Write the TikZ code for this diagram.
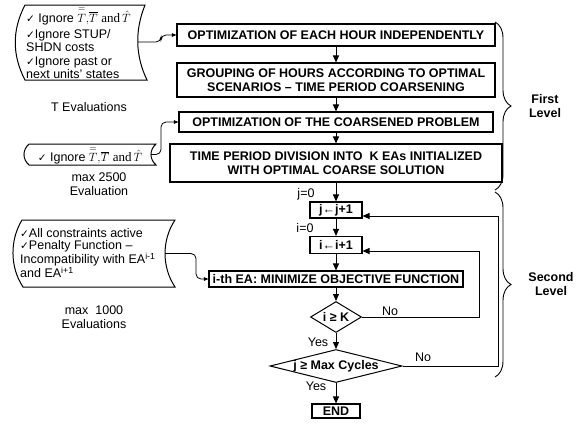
\documentclass[tikz,border=0pt]{standalone}
\usepackage[no-math]{fontspec}
\usepackage{amsmath}
\setmainfont{Liberation Sans}
\newfontfamily\djv{DejaVu Sans}
\newfontfamily\tms{Liberation Serif}
\usetikzlibrary{arrows.meta,shapes.geometric,decorations.pathreplacing}
\newcommand{\ck}{{\djv\fontsize{10.5}{10}\selectfont ✓}}
\newcommand{\TTT}{{\fontsize{13}{13}\selectfont$\overset{=}{T}{,}\overline{T}$ {\tms and}\kern2pt$\hat{T}$}}
\tikzset{
 box/.style={draw, line width=1.1pt, inner sep=0pt, align=center, font=\bfseries\fontsize{12.5}{14}\selectfont},
 dia/.style={draw, shape=diamond, line width=1pt, inner sep=0pt, font=\bfseries\fontsize{12.5}{14}\selectfont},
 txt/.style={inner sep=0pt, align=center, font=\fontsize{12.5}{14}\selectfont},
 side/.style={line width=1pt},
 arr/.style={line width=1pt, -{Triangle[length=7pt,width=6pt]}},
 arrs/.style={line width=0.8pt, rounded corners=5pt, -{Triangle[length=4.5pt,width=3.5pt]}},
 brc/.style={line width=0.9pt, decorate, decoration={brace, amplitude=16pt}},
}
\begin{document}
\begin{tikzpicture}[x=1pt,y=-1pt]
\useasboundingbox (0,0) rectangle (585,424);
% main boxes
\node[box, minimum width=318pt, minimum height=22pt] (b1) at (336,35) {OPTIMIZATION OF EACH HOUR INDEPENDENTLY};
\node[box, minimum width=318pt, minimum height=34pt] (b2) at (336,80) {GROUPING OF HOURS ACCORDING TO OPTIMAL\\SCENARIOS – TIME PERIOD COARSENING};
\node[box, minimum width=314pt, minimum height=20pt] (b3) at (336,122) {OPTIMIZATION OF THE COARSENED PROBLEM};
\node[box, minimum width=332pt, minimum height=38pt] (b4) at (336,163) {TIME PERIOD DIVISION INTO\ \ K EAs INITIALIZED\\WITH OPTIMAL COARSE SOLUTION};
\node[box, minimum width=52pt, minimum height=16pt] (jb) at (336,210) {j←j+1};
\node[box, minimum width=52pt, minimum height=17pt] (ib) at (336,245) {i←i+1};
\node[box, minimum width=254pt, minimum height=16pt] (ea) at (336,279) {i-th EA: MINIMIZE OBJECTIVE FUNCTION};
\node[dia, aspect=1.65, minimum width=51pt, minimum height=31pt] (d1) at (336,317) {i ≥ K};
\node[dia, aspect=4, minimum width=132pt, minimum height=33pt] (d2) at (336,366) {j ≥ Max Cycles};
\node[box, minimum width=48pt, minimum height=14pt] (end) at (336,411) {END};
% small labels
\node[txt] (j0) at (306,194) {j=0};
\node[txt] (i0) at (305,228) {i=0};
\node[txt] (no1) at (390,311) {No};
\node[txt] (yes1) at (318,342) {Yes};
\node[txt] (no2) at (423,357) {No};
\node[txt] (yes2) at (316,386) {Yes};
% main arrows
\draw[arr] (b1) -- (b2);
\draw[arr] (b2) -- (b3);
\draw[arr] (b3) -- (b4);
\draw[arr] (b4) -- (jb);
\draw[arr] (jb) -- (ib);
\draw[arr] (ib) -- (ea);
\draw[arr] (ea) -- (d1);
\draw[arr] (d1) -- (d2);
\draw[arr] (d2) -- (end);
\draw[arr] (d1.east) -- ++(117,0) |- ([yshift=-6pt]ib.east);
\draw[arr] (d2.east) -- ++(96,0) |- ([yshift=-6pt]jb.east);
% left side shapes
\draw[side] (25,5) -- (145,5) .. controls (135,30) and (135,55) .. (147,80) -- (25,80) .. controls (12,55) and (12,30) .. cycle;
\coordinate (s1) at (138,42);
\node[anchor=north west, inner sep=0pt, align=left, font=\fontsize{12.5}{13.3}\selectfont] (t1) at (26,7)
 {\ck\ Ignore \TTT\\[3pt] \ck Ignore STUP/\\ SHDN costs\\ \ck Ignore past or\\ next units' states};
\draw[side] (29,144) -- (156,144) .. controls (149.3,150) and (149.3,159) .. (156,165) -- (29,165) .. controls (22.3,159) and (22.3,150) .. cycle;
\coordinate (s2) at (151,154.5);
\node[txt] (t2) at (90,155.5) {\ck\ Ignore \TTT};
\draw[side] (22,220) -- (175,220) .. controls (161.7,240) and (161.7,267) .. (175,287) -- (23,287) .. controls (9.8,267) and (9.8,240) .. cycle;
\coordinate (s3) at (165,253.5);
\node[anchor=north west, inner sep=0pt, align=left, font=\fontsize{12.5}{12}\selectfont] (t3) at (20,228)
 {\ck All constraints active\\ \ck Penalty Function –\\ Incompatibility with EA\textsuperscript{i-1}\\ and EA\textsuperscript{i+1}};
% evaluation notes
\node[txt] (e1) at (89,107) {T Evaluations};
\node[txt] (e2) at (99,184) {max 2500\\Evaluation};
\node[txt] (e3) at (94,317) {max\ \ 1000\\Evaluations};
% side connectors
\draw[arrs] (s1) -- (161,42) |- (b1.west);
\draw[arrs] (s2) -- (161,154.5) |- (b3.west);
\draw[arrs] (s3) -- (196,253.5) |- (ea.west);
% braces
\draw[brc] (495,22) -- (495,190);
\draw[brc] (495,192) -- (495,377);
\node[txt, font=\bfseries\fontsize{12.5}{14}\selectfont] (fl) at (545,106) {First\\Level};
\node[txt, font=\bfseries\fontsize{12.5}{14}\selectfont] (sl) at (551,284) {Second\\Level};
\end{tikzpicture}
\end{document}
